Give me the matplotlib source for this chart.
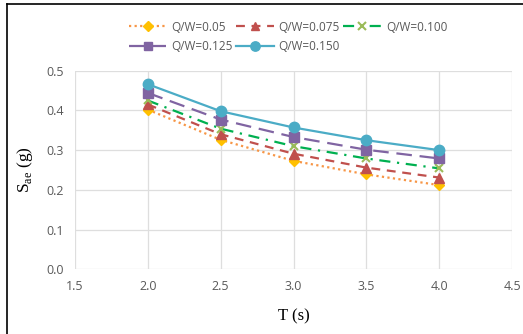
import matplotlib
matplotlib.use("Agg")
import matplotlib.pyplot as plt
from matplotlib.lines import Line2D

# Period values (s)
periods = [2.0, 2.5, 3.0, 3.5, 4.0]

# Spectral acceleration Sae (g) for each Q/W ratio
sae_005 = [0.402, 0.326, 0.273, 0.239, 0.212]
sae_0075 = [0.415, 0.340, 0.291, 0.256, 0.231]
sae_0100 = [0.425, 0.354, 0.310, 0.279, 0.254]
sae_0125 = [0.444, 0.377, 0.333, 0.301, 0.279]
sae_0150 = [0.466, 0.398, 0.357, 0.325, 0.300]

series_labels = ["Q/W=0.05", "Q/W=0.075", "Q/W=0.100", "Q/W=0.125", "Q/W=0.150"]

x_ticks = [1.5, 2.0, 2.5, 3.0, 3.5, 4.0, 4.5]
y_ticks = [0.0, 0.1, 0.2, 0.3, 0.4, 0.5]

W, H = 523, 334
fig = plt.figure(figsize=(W / 100, H / 100), dpi=100)
ax = fig.add_axes([75 / W, 1 - 269.3 / H, (512 - 75) / W, (269.3 - 70.7) / H])

styles = [
    dict(color="#F79646", ls=(0, (1, 1.5)), marker="D", mfc="#FFC000", mec="#FFC000", ms=5.5),
    dict(color="#C0504D", ls=(0, (4, 3)), marker="^", mfc="#C0504D", mec="#C0504D", ms=7),
    dict(color="#00B050", ls=(0, (5, 3, 1, 3)), marker="x", mfc="#9BBB59", mec="#9BBB59", ms=6, mew=1.5),
    dict(color="#8064A2", ls=(0, (7, 3.5)), marker="s", mfc="#8064A2", mec="#8064A2", ms=7),
    dict(color="#4BACC6", ls="-", marker="o", mfc="#4BACC6", mec="#4BACC6", ms=7.5),
]

all_series = [sae_005, sae_0075, sae_0100, sae_0125, sae_0150]
handles = []
for vals, lab, st in zip(all_series, series_labels, styles):
    h, = ax.plot(periods, vals, lw=1.6, label=lab, zorder=3, clip_on=False, **st)
    handles.append(h)

ax.set_xlim(1.5, 4.5)
ax.set_ylim(0.0, 0.5)
ax.set_xticks(x_ticks)
ax.set_yticks(y_ticks)
ax.set_xticklabels([f"{v:.1f}" for v in x_ticks])
ax.set_yticklabels([f"{v:.1f}" for v in y_ticks])
ax.grid(True, color="#DEDEDE", lw=0.9)
ax.set_axisbelow(True)
for s in ax.spines.values():
    s.set_visible(False)
ax.tick_params(length=0, labelsize=9, labelcolor="#595959", pad=8)
for t in ax.get_xticklabels() + ax.get_yticklabels():
    t.set_family("Open Sans")

ax.set_xlabel("T (s)", family="Liberation Serif", fontsize=12, labelpad=11)
ax.set_ylabel(r"S$_{\mathregular{ae}}$ (g)", family="Liberation Serif", fontsize=12.5, labelpad=8)

# Legend in row order: three entries on the first row, two on the second
order = [0, 3, 1, 4, 2]
leg = fig.legend([handles[i] for i in order], [series_labels[i] for i in order],
                 ncol=3, loc="upper left", bbox_to_anchor=(118 / W, 1 - 10 / H),
                 frameon=False, prop={"family": "Open Sans", "size": 8.5},
                 handlelength=3.2, handletextpad=0.4, columnspacing=0.3,
                 labelspacing=0.55, markerscale=0.9)
for t in leg.get_texts():
    t.set_color("#595959")

# Outer frame
fig.add_artist(Line2D([7 / W, 7 / W], [1 - 4 / H, 0], transform=fig.transFigure, color="black", lw=1.2))
fig.add_artist(Line2D([7 / W, 1], [1 - 4 / H, 1 - 4 / H], transform=fig.transFigure, color="black", lw=1.2))

fig.savefig("out.png", dpi=100)
